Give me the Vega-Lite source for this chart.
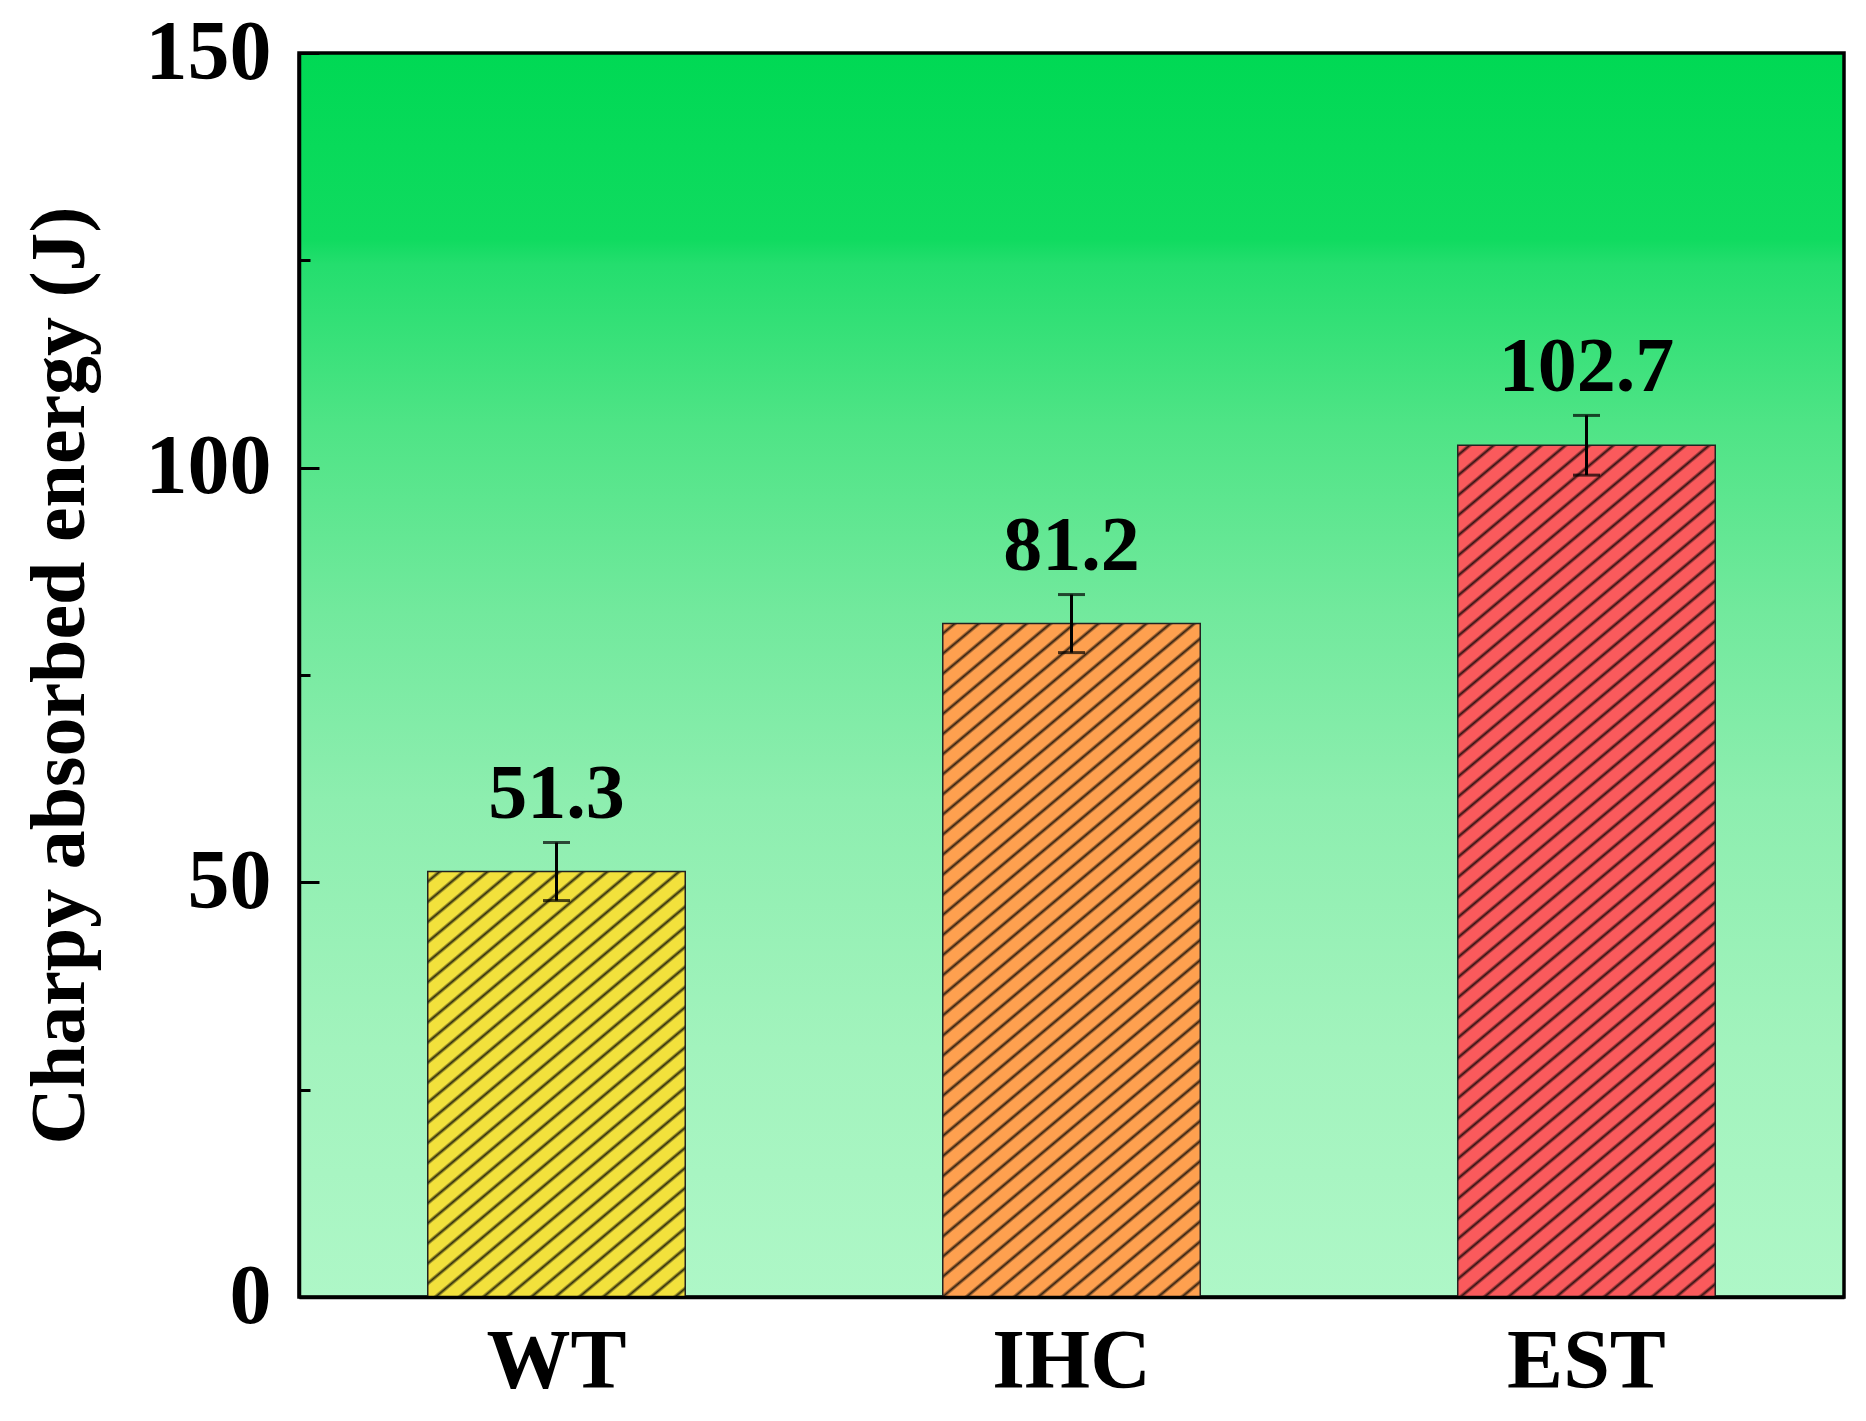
{
  "$schema": "https://vega.github.io/schema/vega-lite/v6.json",
  "width": 1545,
  "height": 1244,
  "autosize": {"type": "none"},
  "padding": {"left": 299, "top": 53, "right": 22, "bottom": 124},
  "background": "white",
  "data": {"values": [
    {"cat": "WT", "value": 51.3, "err": 3.5, "label": "51.3"},
    {"cat": "IHC", "value": 81.2, "err": 3.5, "label": "81.2"},
    {"cat": "EST", "value": 102.7, "err": 3.6, "label": "102.7"}
  ]},
  "encoding": {
    "x": {
      "field": "cat", "type": "nominal", "sort": ["WT", "IHC", "EST"],
      "scale": {"paddingInner": 0.5, "paddingOuter": 0.25},
      "axis": {"title": null, "labelAngle": 0, "ticks": false, "domain": true, "domainColor": "black", "domainWidth": 3.5, "zindex": 1,
               "labelPadding": 24, "labelFontSize": 84, "labelFont": "Liberation Serif", "labelFontWeight": "bold", "labelColor": "black"}
    }
  },
  "layer": [
    {
      "mark": {"type": "bar"},
      "encoding": {
        "y": {"field": "value", "type": "quantitative", "scale": {"domain": [0, 150], "nice": false},
              "axis": {"values": [0, 50, 100, 150], "title": "Charpy absorbed energy (J)", "tickSize": -20, "tickWidth": 3, "tickColor": "black",
                       "domain": true, "domainColor": "black", "domainWidth": 3.5, "zindex": 1, "grid": false, "labelPadding": 48, "labelFlush": false, "labelOverlap": false,
                       "labelFontSize": 84, "labelFont": "Liberation Serif", "labelFontWeight": "bold", "labelColor": "black",
                       "titleFont": "Liberation Serif", "titleFontSize": 78, "titleFontWeight": "bold", "titleColor": "black",
                       "titleAngle": -90, "titleX": -239, "titleY": 622, "titleAlign": "center", "titleBaseline": "middle"}},
        "color": {"field": "cat", "type": "nominal", "scale": {"domain": ["WT", "IHC", "EST"], "range": ["#f2e13c", "#fea04f", "#fa5a5c"]}, "legend": null}
      }
    },
    {
      "transform": [{"filter": "datum.cat === 'WT'"}],
      "mark": {"type": "bar", "stroke": "#222222", "strokeWidth": 1.5, "fill": {"gradient": "linear", "x1": 0, "y1": 0, "x2": 1.03047, "y2": 2.02927, "stops": [
        {"offset":0.00625,"color":"rgba(0,0,0,0)"},{"offset":0.00925,"color":"rgba(0,0,0,0.8)"},{"offset":0.01225,"color":"rgba(0,0,0,0)"},
        {"offset":0.02475,"color":"rgba(0,0,0,0)"},{"offset":0.02775,"color":"rgba(0,0,0,0.8)"},{"offset":0.03075,"color":"rgba(0,0,0,0)"},
        {"offset":0.04325,"color":"rgba(0,0,0,0)"},{"offset":0.04625,"color":"rgba(0,0,0,0.8)"},{"offset":0.04925,"color":"rgba(0,0,0,0)"},
        {"offset":0.06175,"color":"rgba(0,0,0,0)"},{"offset":0.06475,"color":"rgba(0,0,0,0.8)"},{"offset":0.06775,"color":"rgba(0,0,0,0)"},
        {"offset":0.08025,"color":"rgba(0,0,0,0)"},{"offset":0.08325,"color":"rgba(0,0,0,0.8)"},{"offset":0.08625,"color":"rgba(0,0,0,0)"},
        {"offset":0.09875,"color":"rgba(0,0,0,0)"},{"offset":0.10175,"color":"rgba(0,0,0,0.8)"},{"offset":0.10475,"color":"rgba(0,0,0,0)"},
        {"offset":0.11725,"color":"rgba(0,0,0,0)"},{"offset":0.12025,"color":"rgba(0,0,0,0.8)"},{"offset":0.12325,"color":"rgba(0,0,0,0)"},
        {"offset":0.13575,"color":"rgba(0,0,0,0)"},{"offset":0.13875,"color":"rgba(0,0,0,0.8)"},{"offset":0.14175,"color":"rgba(0,0,0,0)"},
        {"offset":0.15425,"color":"rgba(0,0,0,0)"},{"offset":0.15725,"color":"rgba(0,0,0,0.8)"},{"offset":0.16025,"color":"rgba(0,0,0,0)"},
        {"offset":0.17275,"color":"rgba(0,0,0,0)"},{"offset":0.17575,"color":"rgba(0,0,0,0.8)"},{"offset":0.17875,"color":"rgba(0,0,0,0)"},
        {"offset":0.19125,"color":"rgba(0,0,0,0)"},{"offset":0.19425,"color":"rgba(0,0,0,0.8)"},{"offset":0.19725,"color":"rgba(0,0,0,0)"},
        {"offset":0.20975,"color":"rgba(0,0,0,0)"},{"offset":0.21275,"color":"rgba(0,0,0,0.8)"},{"offset":0.21575,"color":"rgba(0,0,0,0)"},
        {"offset":0.22825,"color":"rgba(0,0,0,0)"},{"offset":0.23125,"color":"rgba(0,0,0,0.8)"},{"offset":0.23425,"color":"rgba(0,0,0,0)"},
        {"offset":0.24675,"color":"rgba(0,0,0,0)"},{"offset":0.24975,"color":"rgba(0,0,0,0.8)"},{"offset":0.25275,"color":"rgba(0,0,0,0)"},
        {"offset":0.26525,"color":"rgba(0,0,0,0)"},{"offset":0.26825,"color":"rgba(0,0,0,0.8)"},{"offset":0.27125,"color":"rgba(0,0,0,0)"},
        {"offset":0.28375,"color":"rgba(0,0,0,0)"},{"offset":0.28675,"color":"rgba(0,0,0,0.8)"},{"offset":0.28975,"color":"rgba(0,0,0,0)"},
        {"offset":0.30225,"color":"rgba(0,0,0,0)"},{"offset":0.30525,"color":"rgba(0,0,0,0.8)"},{"offset":0.30825,"color":"rgba(0,0,0,0)"},
        {"offset":0.32075,"color":"rgba(0,0,0,0)"},{"offset":0.32375,"color":"rgba(0,0,0,0.8)"},{"offset":0.32675,"color":"rgba(0,0,0,0)"},
        {"offset":0.33925,"color":"rgba(0,0,0,0)"},{"offset":0.34225,"color":"rgba(0,0,0,0.8)"},{"offset":0.34525,"color":"rgba(0,0,0,0)"},
        {"offset":0.35775,"color":"rgba(0,0,0,0)"},{"offset":0.36075,"color":"rgba(0,0,0,0.8)"},{"offset":0.36375,"color":"rgba(0,0,0,0)"},
        {"offset":0.37625,"color":"rgba(0,0,0,0)"},{"offset":0.37925,"color":"rgba(0,0,0,0.8)"},{"offset":0.38225,"color":"rgba(0,0,0,0)"},
        {"offset":0.39475,"color":"rgba(0,0,0,0)"},{"offset":0.39775,"color":"rgba(0,0,0,0.8)"},{"offset":0.40075,"color":"rgba(0,0,0,0)"},
        {"offset":0.41325,"color":"rgba(0,0,0,0)"},{"offset":0.41625,"color":"rgba(0,0,0,0.8)"},{"offset":0.41925,"color":"rgba(0,0,0,0)"},
        {"offset":0.43175,"color":"rgba(0,0,0,0)"},{"offset":0.43475,"color":"rgba(0,0,0,0.8)"},{"offset":0.43775,"color":"rgba(0,0,0,0)"},
        {"offset":0.45025,"color":"rgba(0,0,0,0)"},{"offset":0.45325,"color":"rgba(0,0,0,0.8)"},{"offset":0.45625,"color":"rgba(0,0,0,0)"},
        {"offset":0.46875,"color":"rgba(0,0,0,0)"},{"offset":0.47175,"color":"rgba(0,0,0,0.8)"},{"offset":0.47475,"color":"rgba(0,0,0,0)"},
        {"offset":0.48725,"color":"rgba(0,0,0,0)"},{"offset":0.49025,"color":"rgba(0,0,0,0.8)"},{"offset":0.49325,"color":"rgba(0,0,0,0)"},
        {"offset":0.50575,"color":"rgba(0,0,0,0)"},{"offset":0.50875,"color":"rgba(0,0,0,0.8)"},{"offset":0.51175,"color":"rgba(0,0,0,0)"},
        {"offset":0.52425,"color":"rgba(0,0,0,0)"},{"offset":0.52725,"color":"rgba(0,0,0,0.8)"},{"offset":0.53025,"color":"rgba(0,0,0,0)"},
        {"offset":0.54275,"color":"rgba(0,0,0,0)"},{"offset":0.54575,"color":"rgba(0,0,0,0.8)"},{"offset":0.54875,"color":"rgba(0,0,0,0)"},
        {"offset":0.56125,"color":"rgba(0,0,0,0)"},{"offset":0.56425,"color":"rgba(0,0,0,0.8)"},{"offset":0.56725,"color":"rgba(0,0,0,0)"},
        {"offset":0.57975,"color":"rgba(0,0,0,0)"},{"offset":0.58275,"color":"rgba(0,0,0,0.8)"},{"offset":0.58575,"color":"rgba(0,0,0,0)"},
        {"offset":0.59825,"color":"rgba(0,0,0,0)"},{"offset":0.60125,"color":"rgba(0,0,0,0.8)"},{"offset":0.60425,"color":"rgba(0,0,0,0)"},
        {"offset":0.61675,"color":"rgba(0,0,0,0)"},{"offset":0.61975,"color":"rgba(0,0,0,0.8)"},{"offset":0.62275,"color":"rgba(0,0,0,0)"},
        {"offset":0.63525,"color":"rgba(0,0,0,0)"},{"offset":0.63825,"color":"rgba(0,0,0,0.8)"},{"offset":0.64125,"color":"rgba(0,0,0,0)"},
        {"offset":0.65375,"color":"rgba(0,0,0,0)"},{"offset":0.65675,"color":"rgba(0,0,0,0.8)"},{"offset":0.65975,"color":"rgba(0,0,0,0)"},
        {"offset":0.67225,"color":"rgba(0,0,0,0)"},{"offset":0.67525,"color":"rgba(0,0,0,0.8)"},{"offset":0.67825,"color":"rgba(0,0,0,0)"},
        {"offset":0.69075,"color":"rgba(0,0,0,0)"},{"offset":0.69375,"color":"rgba(0,0,0,0.8)"},{"offset":0.69675,"color":"rgba(0,0,0,0)"},
        {"offset":0.70925,"color":"rgba(0,0,0,0)"},{"offset":0.71225,"color":"rgba(0,0,0,0.8)"},{"offset":0.71525,"color":"rgba(0,0,0,0)"},
        {"offset":0.72775,"color":"rgba(0,0,0,0)"},{"offset":0.73075,"color":"rgba(0,0,0,0.8)"},{"offset":0.73375,"color":"rgba(0,0,0,0)"},
        {"offset":0.74625,"color":"rgba(0,0,0,0)"},{"offset":0.74925,"color":"rgba(0,0,0,0.8)"},{"offset":0.75225,"color":"rgba(0,0,0,0)"},
        {"offset":0.76475,"color":"rgba(0,0,0,0)"},{"offset":0.76775,"color":"rgba(0,0,0,0.8)"},{"offset":0.77075,"color":"rgba(0,0,0,0)"},
        {"offset":0.78325,"color":"rgba(0,0,0,0)"},{"offset":0.78625,"color":"rgba(0,0,0,0.8)"},{"offset":0.78925,"color":"rgba(0,0,0,0)"},
        {"offset":0.80175,"color":"rgba(0,0,0,0)"},{"offset":0.80475,"color":"rgba(0,0,0,0.8)"},{"offset":0.80775,"color":"rgba(0,0,0,0)"},
        {"offset":0.82025,"color":"rgba(0,0,0,0)"},{"offset":0.82325,"color":"rgba(0,0,0,0.8)"},{"offset":0.82625,"color":"rgba(0,0,0,0)"},
        {"offset":0.83875,"color":"rgba(0,0,0,0)"},{"offset":0.84175,"color":"rgba(0,0,0,0.8)"},{"offset":0.84475,"color":"rgba(0,0,0,0)"},
        {"offset":0.85725,"color":"rgba(0,0,0,0)"},{"offset":0.86025,"color":"rgba(0,0,0,0.8)"},{"offset":0.86325,"color":"rgba(0,0,0,0)"},
        {"offset":0.87575,"color":"rgba(0,0,0,0)"},{"offset":0.87875,"color":"rgba(0,0,0,0.8)"},{"offset":0.88175,"color":"rgba(0,0,0,0)"},
        {"offset":0.89425,"color":"rgba(0,0,0,0)"},{"offset":0.89725,"color":"rgba(0,0,0,0.8)"},{"offset":0.90025,"color":"rgba(0,0,0,0)"},
        {"offset":0.91275,"color":"rgba(0,0,0,0)"},{"offset":0.91575,"color":"rgba(0,0,0,0.8)"},{"offset":0.91875,"color":"rgba(0,0,0,0)"},
        {"offset":0.93125,"color":"rgba(0,0,0,0)"},{"offset":0.93425,"color":"rgba(0,0,0,0.8)"},{"offset":0.93725,"color":"rgba(0,0,0,0)"},
        {"offset":0.94975,"color":"rgba(0,0,0,0)"},{"offset":0.95275,"color":"rgba(0,0,0,0.8)"},{"offset":0.95575,"color":"rgba(0,0,0,0)"},
        {"offset":0.96825,"color":"rgba(0,0,0,0)"},{"offset":0.97125,"color":"rgba(0,0,0,0.8)"},{"offset":0.97425,"color":"rgba(0,0,0,0)"},
        {"offset":0.98675,"color":"rgba(0,0,0,0)"},{"offset":0.98975,"color":"rgba(0,0,0,0.8)"},{"offset":0.99275,"color":"rgba(0,0,0,0)"}
      ]}},
      "encoding": {"y": {"field": "value", "type": "quantitative", "axis": {"values": [25, 75, 125], "labels": false, "title": null, "tickSize": -11, "tickWidth": 3, "tickColor": "black", "domain": false, "grid": false, "orient": "left", "zindex": 1}}}
    },
    {
      "transform": [{"filter": "datum.cat === 'IHC'"}],
      "mark": {"type": "bar", "stroke": "#222222", "strokeWidth": 1.5, "fill": {"gradient": "linear", "x1": 0, "y1": 0, "x2": 0.46922, "y2": 1.46233, "stops": [
        {"offset":0.00625,"color":"rgba(0,0,0,0)"},{"offset":0.00925,"color":"rgba(0,0,0,0.8)"},{"offset":0.01225,"color":"rgba(0,0,0,0)"},
        {"offset":0.02475,"color":"rgba(0,0,0,0)"},{"offset":0.02775,"color":"rgba(0,0,0,0.8)"},{"offset":0.03075,"color":"rgba(0,0,0,0)"},
        {"offset":0.04325,"color":"rgba(0,0,0,0)"},{"offset":0.04625,"color":"rgba(0,0,0,0.8)"},{"offset":0.04925,"color":"rgba(0,0,0,0)"},
        {"offset":0.06175,"color":"rgba(0,0,0,0)"},{"offset":0.06475,"color":"rgba(0,0,0,0.8)"},{"offset":0.06775,"color":"rgba(0,0,0,0)"},
        {"offset":0.08025,"color":"rgba(0,0,0,0)"},{"offset":0.08325,"color":"rgba(0,0,0,0.8)"},{"offset":0.08625,"color":"rgba(0,0,0,0)"},
        {"offset":0.09875,"color":"rgba(0,0,0,0)"},{"offset":0.10175,"color":"rgba(0,0,0,0.8)"},{"offset":0.10475,"color":"rgba(0,0,0,0)"},
        {"offset":0.11725,"color":"rgba(0,0,0,0)"},{"offset":0.12025,"color":"rgba(0,0,0,0.8)"},{"offset":0.12325,"color":"rgba(0,0,0,0)"},
        {"offset":0.13575,"color":"rgba(0,0,0,0)"},{"offset":0.13875,"color":"rgba(0,0,0,0.8)"},{"offset":0.14175,"color":"rgba(0,0,0,0)"},
        {"offset":0.15425,"color":"rgba(0,0,0,0)"},{"offset":0.15725,"color":"rgba(0,0,0,0.8)"},{"offset":0.16025,"color":"rgba(0,0,0,0)"},
        {"offset":0.17275,"color":"rgba(0,0,0,0)"},{"offset":0.17575,"color":"rgba(0,0,0,0.8)"},{"offset":0.17875,"color":"rgba(0,0,0,0)"},
        {"offset":0.19125,"color":"rgba(0,0,0,0)"},{"offset":0.19425,"color":"rgba(0,0,0,0.8)"},{"offset":0.19725,"color":"rgba(0,0,0,0)"},
        {"offset":0.20975,"color":"rgba(0,0,0,0)"},{"offset":0.21275,"color":"rgba(0,0,0,0.8)"},{"offset":0.21575,"color":"rgba(0,0,0,0)"},
        {"offset":0.22825,"color":"rgba(0,0,0,0)"},{"offset":0.23125,"color":"rgba(0,0,0,0.8)"},{"offset":0.23425,"color":"rgba(0,0,0,0)"},
        {"offset":0.24675,"color":"rgba(0,0,0,0)"},{"offset":0.24975,"color":"rgba(0,0,0,0.8)"},{"offset":0.25275,"color":"rgba(0,0,0,0)"},
        {"offset":0.26525,"color":"rgba(0,0,0,0)"},{"offset":0.26825,"color":"rgba(0,0,0,0.8)"},{"offset":0.27125,"color":"rgba(0,0,0,0)"},
        {"offset":0.28375,"color":"rgba(0,0,0,0)"},{"offset":0.28675,"color":"rgba(0,0,0,0.8)"},{"offset":0.28975,"color":"rgba(0,0,0,0)"},
        {"offset":0.30225,"color":"rgba(0,0,0,0)"},{"offset":0.30525,"color":"rgba(0,0,0,0.8)"},{"offset":0.30825,"color":"rgba(0,0,0,0)"},
        {"offset":0.32075,"color":"rgba(0,0,0,0)"},{"offset":0.32375,"color":"rgba(0,0,0,0.8)"},{"offset":0.32675,"color":"rgba(0,0,0,0)"},
        {"offset":0.33925,"color":"rgba(0,0,0,0)"},{"offset":0.34225,"color":"rgba(0,0,0,0.8)"},{"offset":0.34525,"color":"rgba(0,0,0,0)"},
        {"offset":0.35775,"color":"rgba(0,0,0,0)"},{"offset":0.36075,"color":"rgba(0,0,0,0.8)"},{"offset":0.36375,"color":"rgba(0,0,0,0)"},
        {"offset":0.37625,"color":"rgba(0,0,0,0)"},{"offset":0.37925,"color":"rgba(0,0,0,0.8)"},{"offset":0.38225,"color":"rgba(0,0,0,0)"},
        {"offset":0.39475,"color":"rgba(0,0,0,0)"},{"offset":0.39775,"color":"rgba(0,0,0,0.8)"},{"offset":0.40075,"color":"rgba(0,0,0,0)"},
        {"offset":0.41325,"color":"rgba(0,0,0,0)"},{"offset":0.41625,"color":"rgba(0,0,0,0.8)"},{"offset":0.41925,"color":"rgba(0,0,0,0)"},
        {"offset":0.43175,"color":"rgba(0,0,0,0)"},{"offset":0.43475,"color":"rgba(0,0,0,0.8)"},{"offset":0.43775,"color":"rgba(0,0,0,0)"},
        {"offset":0.45025,"color":"rgba(0,0,0,0)"},{"offset":0.45325,"color":"rgba(0,0,0,0.8)"},{"offset":0.45625,"color":"rgba(0,0,0,0)"},
        {"offset":0.46875,"color":"rgba(0,0,0,0)"},{"offset":0.47175,"color":"rgba(0,0,0,0.8)"},{"offset":0.47475,"color":"rgba(0,0,0,0)"},
        {"offset":0.48725,"color":"rgba(0,0,0,0)"},{"offset":0.49025,"color":"rgba(0,0,0,0.8)"},{"offset":0.49325,"color":"rgba(0,0,0,0)"},
        {"offset":0.50575,"color":"rgba(0,0,0,0)"},{"offset":0.50875,"color":"rgba(0,0,0,0.8)"},{"offset":0.51175,"color":"rgba(0,0,0,0)"},
        {"offset":0.52425,"color":"rgba(0,0,0,0)"},{"offset":0.52725,"color":"rgba(0,0,0,0.8)"},{"offset":0.53025,"color":"rgba(0,0,0,0)"},
        {"offset":0.54275,"color":"rgba(0,0,0,0)"},{"offset":0.54575,"color":"rgba(0,0,0,0.8)"},{"offset":0.54875,"color":"rgba(0,0,0,0)"},
        {"offset":0.56125,"color":"rgba(0,0,0,0)"},{"offset":0.56425,"color":"rgba(0,0,0,0.8)"},{"offset":0.56725,"color":"rgba(0,0,0,0)"},
        {"offset":0.57975,"color":"rgba(0,0,0,0)"},{"offset":0.58275,"color":"rgba(0,0,0,0.8)"},{"offset":0.58575,"color":"rgba(0,0,0,0)"},
        {"offset":0.59825,"color":"rgba(0,0,0,0)"},{"offset":0.60125,"color":"rgba(0,0,0,0.8)"},{"offset":0.60425,"color":"rgba(0,0,0,0)"},
        {"offset":0.61675,"color":"rgba(0,0,0,0)"},{"offset":0.61975,"color":"rgba(0,0,0,0.8)"},{"offset":0.62275,"color":"rgba(0,0,0,0)"},
        {"offset":0.63525,"color":"rgba(0,0,0,0)"},{"offset":0.63825,"color":"rgba(0,0,0,0.8)"},{"offset":0.64125,"color":"rgba(0,0,0,0)"},
        {"offset":0.65375,"color":"rgba(0,0,0,0)"},{"offset":0.65675,"color":"rgba(0,0,0,0.8)"},{"offset":0.65975,"color":"rgba(0,0,0,0)"},
        {"offset":0.67225,"color":"rgba(0,0,0,0)"},{"offset":0.67525,"color":"rgba(0,0,0,0.8)"},{"offset":0.67825,"color":"rgba(0,0,0,0)"},
        {"offset":0.69075,"color":"rgba(0,0,0,0)"},{"offset":0.69375,"color":"rgba(0,0,0,0.8)"},{"offset":0.69675,"color":"rgba(0,0,0,0)"},
        {"offset":0.70925,"color":"rgba(0,0,0,0)"},{"offset":0.71225,"color":"rgba(0,0,0,0.8)"},{"offset":0.71525,"color":"rgba(0,0,0,0)"},
        {"offset":0.72775,"color":"rgba(0,0,0,0)"},{"offset":0.73075,"color":"rgba(0,0,0,0.8)"},{"offset":0.73375,"color":"rgba(0,0,0,0)"},
        {"offset":0.74625,"color":"rgba(0,0,0,0)"},{"offset":0.74925,"color":"rgba(0,0,0,0.8)"},{"offset":0.75225,"color":"rgba(0,0,0,0)"},
        {"offset":0.76475,"color":"rgba(0,0,0,0)"},{"offset":0.76775,"color":"rgba(0,0,0,0.8)"},{"offset":0.77075,"color":"rgba(0,0,0,0)"},
        {"offset":0.78325,"color":"rgba(0,0,0,0)"},{"offset":0.78625,"color":"rgba(0,0,0,0.8)"},{"offset":0.78925,"color":"rgba(0,0,0,0)"},
        {"offset":0.80175,"color":"rgba(0,0,0,0)"},{"offset":0.80475,"color":"rgba(0,0,0,0.8)"},{"offset":0.80775,"color":"rgba(0,0,0,0)"},
        {"offset":0.82025,"color":"rgba(0,0,0,0)"},{"offset":0.82325,"color":"rgba(0,0,0,0.8)"},{"offset":0.82625,"color":"rgba(0,0,0,0)"},
        {"offset":0.83875,"color":"rgba(0,0,0,0)"},{"offset":0.84175,"color":"rgba(0,0,0,0.8)"},{"offset":0.84475,"color":"rgba(0,0,0,0)"},
        {"offset":0.85725,"color":"rgba(0,0,0,0)"},{"offset":0.86025,"color":"rgba(0,0,0,0.8)"},{"offset":0.86325,"color":"rgba(0,0,0,0)"},
        {"offset":0.87575,"color":"rgba(0,0,0,0)"},{"offset":0.87875,"color":"rgba(0,0,0,0.8)"},{"offset":0.88175,"color":"rgba(0,0,0,0)"},
        {"offset":0.89425,"color":"rgba(0,0,0,0)"},{"offset":0.89725,"color":"rgba(0,0,0,0.8)"},{"offset":0.90025,"color":"rgba(0,0,0,0)"},
        {"offset":0.91275,"color":"rgba(0,0,0,0)"},{"offset":0.91575,"color":"rgba(0,0,0,0.8)"},{"offset":0.91875,"color":"rgba(0,0,0,0)"},
        {"offset":0.93125,"color":"rgba(0,0,0,0)"},{"offset":0.93425,"color":"rgba(0,0,0,0.8)"},{"offset":0.93725,"color":"rgba(0,0,0,0)"},
        {"offset":0.94975,"color":"rgba(0,0,0,0)"},{"offset":0.95275,"color":"rgba(0,0,0,0.8)"},{"offset":0.95575,"color":"rgba(0,0,0,0)"},
        {"offset":0.96825,"color":"rgba(0,0,0,0)"},{"offset":0.97125,"color":"rgba(0,0,0,0.8)"},{"offset":0.97425,"color":"rgba(0,0,0,0)"},
        {"offset":0.98675,"color":"rgba(0,0,0,0)"},{"offset":0.98975,"color":"rgba(0,0,0,0.8)"},{"offset":0.99275,"color":"rgba(0,0,0,0)"}
      ]}},
      "encoding": {"y": {"field": "value", "type": "quantitative", "axis": null}}
    },
    {
      "transform": [{"filter": "datum.cat === 'EST'"}],
      "mark": {"type": "bar", "stroke": "#222222", "strokeWidth": 1.5, "fill": {"gradient": "linear", "x1": 0, "y1": 0, "x2": 0.30395, "y2": 1.19808, "stops": [
        {"offset":0.00625,"color":"rgba(0,0,0,0)"},{"offset":0.00925,"color":"rgba(0,0,0,0.8)"},{"offset":0.01225,"color":"rgba(0,0,0,0)"},
        {"offset":0.02475,"color":"rgba(0,0,0,0)"},{"offset":0.02775,"color":"rgba(0,0,0,0.8)"},{"offset":0.03075,"color":"rgba(0,0,0,0)"},
        {"offset":0.04325,"color":"rgba(0,0,0,0)"},{"offset":0.04625,"color":"rgba(0,0,0,0.8)"},{"offset":0.04925,"color":"rgba(0,0,0,0)"},
        {"offset":0.06175,"color":"rgba(0,0,0,0)"},{"offset":0.06475,"color":"rgba(0,0,0,0.8)"},{"offset":0.06775,"color":"rgba(0,0,0,0)"},
        {"offset":0.08025,"color":"rgba(0,0,0,0)"},{"offset":0.08325,"color":"rgba(0,0,0,0.8)"},{"offset":0.08625,"color":"rgba(0,0,0,0)"},
        {"offset":0.09875,"color":"rgba(0,0,0,0)"},{"offset":0.10175,"color":"rgba(0,0,0,0.8)"},{"offset":0.10475,"color":"rgba(0,0,0,0)"},
        {"offset":0.11725,"color":"rgba(0,0,0,0)"},{"offset":0.12025,"color":"rgba(0,0,0,0.8)"},{"offset":0.12325,"color":"rgba(0,0,0,0)"},
        {"offset":0.13575,"color":"rgba(0,0,0,0)"},{"offset":0.13875,"color":"rgba(0,0,0,0.8)"},{"offset":0.14175,"color":"rgba(0,0,0,0)"},
        {"offset":0.15425,"color":"rgba(0,0,0,0)"},{"offset":0.15725,"color":"rgba(0,0,0,0.8)"},{"offset":0.16025,"color":"rgba(0,0,0,0)"},
        {"offset":0.17275,"color":"rgba(0,0,0,0)"},{"offset":0.17575,"color":"rgba(0,0,0,0.8)"},{"offset":0.17875,"color":"rgba(0,0,0,0)"},
        {"offset":0.19125,"color":"rgba(0,0,0,0)"},{"offset":0.19425,"color":"rgba(0,0,0,0.8)"},{"offset":0.19725,"color":"rgba(0,0,0,0)"},
        {"offset":0.20975,"color":"rgba(0,0,0,0)"},{"offset":0.21275,"color":"rgba(0,0,0,0.8)"},{"offset":0.21575,"color":"rgba(0,0,0,0)"},
        {"offset":0.22825,"color":"rgba(0,0,0,0)"},{"offset":0.23125,"color":"rgba(0,0,0,0.8)"},{"offset":0.23425,"color":"rgba(0,0,0,0)"},
        {"offset":0.24675,"color":"rgba(0,0,0,0)"},{"offset":0.24975,"color":"rgba(0,0,0,0.8)"},{"offset":0.25275,"color":"rgba(0,0,0,0)"},
        {"offset":0.26525,"color":"rgba(0,0,0,0)"},{"offset":0.26825,"color":"rgba(0,0,0,0.8)"},{"offset":0.27125,"color":"rgba(0,0,0,0)"},
        {"offset":0.28375,"color":"rgba(0,0,0,0)"},{"offset":0.28675,"color":"rgba(0,0,0,0.8)"},{"offset":0.28975,"color":"rgba(0,0,0,0)"},
        {"offset":0.30225,"color":"rgba(0,0,0,0)"},{"offset":0.30525,"color":"rgba(0,0,0,0.8)"},{"offset":0.30825,"color":"rgba(0,0,0,0)"},
        {"offset":0.32075,"color":"rgba(0,0,0,0)"},{"offset":0.32375,"color":"rgba(0,0,0,0.8)"},{"offset":0.32675,"color":"rgba(0,0,0,0)"},
        {"offset":0.33925,"color":"rgba(0,0,0,0)"},{"offset":0.34225,"color":"rgba(0,0,0,0.8)"},{"offset":0.34525,"color":"rgba(0,0,0,0)"},
        {"offset":0.35775,"color":"rgba(0,0,0,0)"},{"offset":0.36075,"color":"rgba(0,0,0,0.8)"},{"offset":0.36375,"color":"rgba(0,0,0,0)"},
        {"offset":0.37625,"color":"rgba(0,0,0,0)"},{"offset":0.37925,"color":"rgba(0,0,0,0.8)"},{"offset":0.38225,"color":"rgba(0,0,0,0)"},
        {"offset":0.39475,"color":"rgba(0,0,0,0)"},{"offset":0.39775,"color":"rgba(0,0,0,0.8)"},{"offset":0.40075,"color":"rgba(0,0,0,0)"},
        {"offset":0.41325,"color":"rgba(0,0,0,0)"},{"offset":0.41625,"color":"rgba(0,0,0,0.8)"},{"offset":0.41925,"color":"rgba(0,0,0,0)"},
        {"offset":0.43175,"color":"rgba(0,0,0,0)"},{"offset":0.43475,"color":"rgba(0,0,0,0.8)"},{"offset":0.43775,"color":"rgba(0,0,0,0)"},
        {"offset":0.45025,"color":"rgba(0,0,0,0)"},{"offset":0.45325,"color":"rgba(0,0,0,0.8)"},{"offset":0.45625,"color":"rgba(0,0,0,0)"},
        {"offset":0.46875,"color":"rgba(0,0,0,0)"},{"offset":0.47175,"color":"rgba(0,0,0,0.8)"},{"offset":0.47475,"color":"rgba(0,0,0,0)"},
        {"offset":0.48725,"color":"rgba(0,0,0,0)"},{"offset":0.49025,"color":"rgba(0,0,0,0.8)"},{"offset":0.49325,"color":"rgba(0,0,0,0)"},
        {"offset":0.50575,"color":"rgba(0,0,0,0)"},{"offset":0.50875,"color":"rgba(0,0,0,0.8)"},{"offset":0.51175,"color":"rgba(0,0,0,0)"},
        {"offset":0.52425,"color":"rgba(0,0,0,0)"},{"offset":0.52725,"color":"rgba(0,0,0,0.8)"},{"offset":0.53025,"color":"rgba(0,0,0,0)"},
        {"offset":0.54275,"color":"rgba(0,0,0,0)"},{"offset":0.54575,"color":"rgba(0,0,0,0.8)"},{"offset":0.54875,"color":"rgba(0,0,0,0)"},
        {"offset":0.56125,"color":"rgba(0,0,0,0)"},{"offset":0.56425,"color":"rgba(0,0,0,0.8)"},{"offset":0.56725,"color":"rgba(0,0,0,0)"},
        {"offset":0.57975,"color":"rgba(0,0,0,0)"},{"offset":0.58275,"color":"rgba(0,0,0,0.8)"},{"offset":0.58575,"color":"rgba(0,0,0,0)"},
        {"offset":0.59825,"color":"rgba(0,0,0,0)"},{"offset":0.60125,"color":"rgba(0,0,0,0.8)"},{"offset":0.60425,"color":"rgba(0,0,0,0)"},
        {"offset":0.61675,"color":"rgba(0,0,0,0)"},{"offset":0.61975,"color":"rgba(0,0,0,0.8)"},{"offset":0.62275,"color":"rgba(0,0,0,0)"},
        {"offset":0.63525,"color":"rgba(0,0,0,0)"},{"offset":0.63825,"color":"rgba(0,0,0,0.8)"},{"offset":0.64125,"color":"rgba(0,0,0,0)"},
        {"offset":0.65375,"color":"rgba(0,0,0,0)"},{"offset":0.65675,"color":"rgba(0,0,0,0.8)"},{"offset":0.65975,"color":"rgba(0,0,0,0)"},
        {"offset":0.67225,"color":"rgba(0,0,0,0)"},{"offset":0.67525,"color":"rgba(0,0,0,0.8)"},{"offset":0.67825,"color":"rgba(0,0,0,0)"},
        {"offset":0.69075,"color":"rgba(0,0,0,0)"},{"offset":0.69375,"color":"rgba(0,0,0,0.8)"},{"offset":0.69675,"color":"rgba(0,0,0,0)"},
        {"offset":0.70925,"color":"rgba(0,0,0,0)"},{"offset":0.71225,"color":"rgba(0,0,0,0.8)"},{"offset":0.71525,"color":"rgba(0,0,0,0)"},
        {"offset":0.72775,"color":"rgba(0,0,0,0)"},{"offset":0.73075,"color":"rgba(0,0,0,0.8)"},{"offset":0.73375,"color":"rgba(0,0,0,0)"},
        {"offset":0.74625,"color":"rgba(0,0,0,0)"},{"offset":0.74925,"color":"rgba(0,0,0,0.8)"},{"offset":0.75225,"color":"rgba(0,0,0,0)"},
        {"offset":0.76475,"color":"rgba(0,0,0,0)"},{"offset":0.76775,"color":"rgba(0,0,0,0.8)"},{"offset":0.77075,"color":"rgba(0,0,0,0)"},
        {"offset":0.78325,"color":"rgba(0,0,0,0)"},{"offset":0.78625,"color":"rgba(0,0,0,0.8)"},{"offset":0.78925,"color":"rgba(0,0,0,0)"},
        {"offset":0.80175,"color":"rgba(0,0,0,0)"},{"offset":0.80475,"color":"rgba(0,0,0,0.8)"},{"offset":0.80775,"color":"rgba(0,0,0,0)"},
        {"offset":0.82025,"color":"rgba(0,0,0,0)"},{"offset":0.82325,"color":"rgba(0,0,0,0.8)"},{"offset":0.82625,"color":"rgba(0,0,0,0)"},
        {"offset":0.83875,"color":"rgba(0,0,0,0)"},{"offset":0.84175,"color":"rgba(0,0,0,0.8)"},{"offset":0.84475,"color":"rgba(0,0,0,0)"},
        {"offset":0.85725,"color":"rgba(0,0,0,0)"},{"offset":0.86025,"color":"rgba(0,0,0,0.8)"},{"offset":0.86325,"color":"rgba(0,0,0,0)"},
        {"offset":0.87575,"color":"rgba(0,0,0,0)"},{"offset":0.87875,"color":"rgba(0,0,0,0.8)"},{"offset":0.88175,"color":"rgba(0,0,0,0)"},
        {"offset":0.89425,"color":"rgba(0,0,0,0)"},{"offset":0.89725,"color":"rgba(0,0,0,0.8)"},{"offset":0.90025,"color":"rgba(0,0,0,0)"},
        {"offset":0.91275,"color":"rgba(0,0,0,0)"},{"offset":0.91575,"color":"rgba(0,0,0,0.8)"},{"offset":0.91875,"color":"rgba(0,0,0,0)"},
        {"offset":0.93125,"color":"rgba(0,0,0,0)"},{"offset":0.93425,"color":"rgba(0,0,0,0.8)"},{"offset":0.93725,"color":"rgba(0,0,0,0)"},
        {"offset":0.94975,"color":"rgba(0,0,0,0)"},{"offset":0.95275,"color":"rgba(0,0,0,0.8)"},{"offset":0.95575,"color":"rgba(0,0,0,0)"},
        {"offset":0.96825,"color":"rgba(0,0,0,0)"},{"offset":0.97125,"color":"rgba(0,0,0,0.8)"},{"offset":0.97425,"color":"rgba(0,0,0,0)"},
        {"offset":0.98675,"color":"rgba(0,0,0,0)"},{"offset":0.98975,"color":"rgba(0,0,0,0.8)"},{"offset":0.99275,"color":"rgba(0,0,0,0)"}
      ]}},
      "encoding": {"y": {"field": "value", "type": "quantitative", "axis": null}}
    },
    {
      "mark": {"type": "errorbar", "ticks": {"size": 27, "thickness": 3, "color": "black"}, "rule": {"strokeWidth": 3, "color": "black"}},
      "encoding": {
        "y": {"field": "value", "type": "quantitative", "axis": null},
        "yError": {"field": "err"}
      }
    },
    {
      "mark": {"type": "text", "dy": -54, "baseline": "alphabetic", "align": "center", "fontSize": 78, "font": "Liberation Serif", "fontWeight": "bold", "color": "black"},
      "encoding": {
        "y": {"field": "value", "type": "quantitative", "axis": null},
        "text": {"field": "label"}
      }
    }
  ],
  "resolve": {"axis": {"y": "independent"}},
  "config": {
    "view": {
      "stroke": "black",
      "strokeWidth": 3.5,
      "fill": {"gradient": "linear", "x1": 0, "y1": 0, "x2": 0, "y2": 1, "stops": [
        {"offset": 0, "color": "#00d954"},
        {"offset": 0.15, "color": "#10db60"},
        {"offset": 0.17, "color": "#24de6e"},
        {"offset": 0.3, "color": "#4fe486"},
        {"offset": 0.45, "color": "#72e99d"},
        {"offset": 0.6, "color": "#8deeaf"},
        {"offset": 0.8, "color": "#a2f3bd"},
        {"offset": 1, "color": "#aef7c7"}
      ]}
    }
  }
}
